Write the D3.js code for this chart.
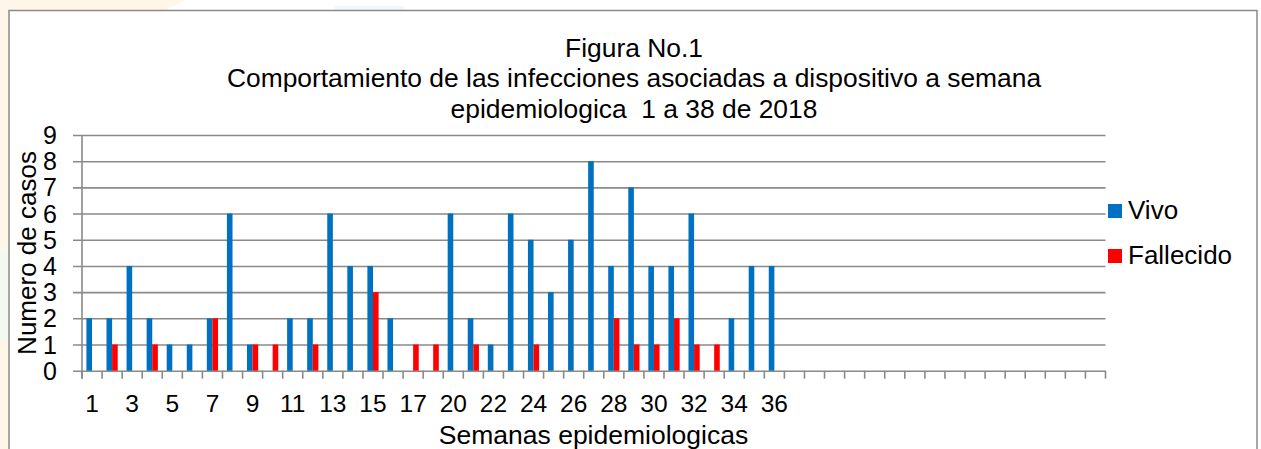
<!DOCTYPE html>
<html>
<head>
<meta charset="utf-8">
<script src="https://cdn.jsdelivr.net/npm/d3@7"></script>
<style>
  body { margin: 0; background: #fff; }
  svg { display: block; }
  text { font-family: "Liberation Sans", Arial, sans-serif; fill: #000; }
</style>
</head>
<body>
<script>
// weeks shown on the x axis (week 19 is not in the data), then empty slots
const weeks = ["1","2","3","4","5","6","7","8","9","10","11","12","13","14","15","16","17","18",
               "20","21","22","23","24","25","26","27","28","29","30","31","32","33","34","35","36",
               "","","","","","","","","","","","","","","",""];
const vivo      = [2,2,4,2,1,1,2,6,1,0,2,2,6,4,4,2,0,0,6,2,1,6,5,3,5,8,4,7,4,4,6,0,2,4,4];
const fallecido = [0,1,0,1,0,0,2,0,1,1,0,1,0,0,3,0,1,1,0,1,0,0,1,0,0,0,2,1,1,2,1,1,0,0,0];
const seriesNames = ["Vivo", "Fallecido"];
const seriesColors = ["#0070C0", "#FF0000"];
const yTicks = [0,1,2,3,4,5,6,7,8,9];

const W = 1261, H = 449;
const plotLeft = 82, plotRight = 1105.5, plotTop = 135, plotBottom = 370.7;

const svg = d3.select("body").append("svg")
    .attr("width", W)
    .attr("height", H);

// faint page background behind the chart frame
svg.append("path")
    .attr("d", "M0,0 L186,0 L165,10 L9,10 L9,449 L0,449 Z")
    .attr("fill", "#fff6ea");
svg.append("rect").attr("x", 0).attr("y", 250).attr("width", 8).attr("height", 90)
    .attr("fill", "#f4f8ef");
svg.append("rect").attr("x", 335).attr("y", 6).attr("width", 69).attr("height", 4)
    .attr("fill", "#eef8fd");

// chart frame
svg.append("rect")
    .attr("x", 9).attr("y", 10.5)
    .attr("width", 1248).attr("height", 460)
    .attr("fill", "#fff")
    .attr("stroke", "#8a8a8a")
    .attr("stroke-width", 1.5);

const idx = d3.range(weeks.length);

const x = d3.scaleBand()
    .domain(idx)
    .range([plotLeft, plotRight])
    .paddingInner(0)
    .paddingOuter(0);

const x1 = d3.scaleBand()
    .domain(seriesNames)
    .range([0, x.bandwidth()])
    .paddingInner(0)
    .paddingOuter(0.79);

const y = d3.scaleLinear()
    .domain([0, 9])
    .range([plotBottom, plotTop]);

// gridlines
svg.append("g")
    .attr("transform", `translate(${plotLeft - 9},0)`)
    .call(d3.axisRight(y).tickValues(yTicks).tickSize(plotRight - plotLeft + 9).tickFormat(""))
    .call(g => g.select(".domain").remove())
    .call(g => g.selectAll("line").attr("stroke", "#8a8a8a").attr("stroke-width", 1.6));

// y axis line
svg.append("line")
    .attr("x1", plotLeft).attr("x2", plotLeft)
    .attr("y1", plotTop).attr("y2", plotBottom + 8)
    .attr("stroke", "#8a8a8a").attr("stroke-width", 1.6);

// x tick marks at category boundaries
const bounds = idx.map(i => x(i)).concat([plotRight]);
svg.append("g").selectAll("line")
    .data(bounds)
    .join("line")
    .attr("x1", d => d).attr("x2", d => d)
    .attr("y1", plotBottom).attr("y2", plotBottom + 8)
    .attr("stroke", "#8a8a8a").attr("stroke-width", 1.6);

// y tick labels
svg.append("g")
    .attr("transform", `translate(${plotLeft - 9},0)`)
    .call(d3.axisLeft(y).tickValues(yTicks).tickSize(0).tickPadding(16))
    .call(g => g.select(".domain").remove())
    .call(g => g.selectAll("text")
        .attr("font-family", "'Liberation Serif', 'Times New Roman', serif")
        .attr("font-size", 25)
        .attr("dy", "0.34em")
        .attr("fill", "#000"));

// x tick labels
svg.append("g")
    .attr("transform", `translate(0,${plotBottom})`)
    .call(d3.axisBottom(x).tickSize(0).tickPadding(0)
        .tickFormat(i => i % 2 === 0 ? weeks[i] : ""))
    .call(g => g.select(".domain").remove())
    .call(g => g.selectAll("text")
        .attr("font-family", "'Liberation Sans', Arial, sans-serif")
        .attr("font-size", 24.5)
        .attr("y", 41)
        .attr("dy", 0)
        .attr("fill", "#000"));

// bars
const rows = vivo.map((v, i) => ({ i, vals: [v, fallecido[i]] }));
svg.append("g").selectAll("g")
    .data(rows)
    .join("g")
    .attr("transform", d => `translate(${x(d.i)},0)`)
    .selectAll("rect")
    .data(d => d.vals.map((v, k) => ({ name: seriesNames[k], v, k })))
    .join("rect")
    .filter(d => d.v > 0)
    .attr("x", d => x1(d.name))
    .attr("y", d => y(d.v))
    .attr("width", x1.bandwidth())
    .attr("height", d => y(0) - y(d.v))
    .attr("fill", d => seriesColors[d.k]);

// titles
const titleLines = ["Figura No.1",
    "Comportamiento de las infecciones asociadas a dispositivo a semana",
    "epidemiologica  1 a 38 de 2018"];
svg.append("g").selectAll("text")
    .data(titleLines)
    .join("text")
    .attr("x", 634)
    .attr("y", (d, i) => 56.5 + i * 30.8)
    .attr("text-anchor", "middle")
    .attr("font-size", 26.4)
    .attr("xml:space", "preserve")
    .style("white-space", "pre")
    .text(d => d);

svg.append("text")
    .attr("x", 593.5)
    .attr("y", 444)
    .attr("text-anchor", "middle")
    .attr("font-size", 26.5)
    .text("Semanas epidemiologicas");

svg.append("text")
    .attr("transform", "translate(36,253) rotate(-90)")
    .attr("text-anchor", "middle")
    .attr("font-size", 26)
    .text("Numero de casos");

// legend
const legend = svg.append("g").selectAll("g")
    .data(seriesNames)
    .join("g")
    .attr("transform", (d, i) => `translate(1108,${204 + i * 45})`);
legend.append("rect")
    .attr("width", 14).attr("height", 14)
    .attr("fill", (d, i) => seriesColors[i]);
legend.append("text")
    .attr("x", 20).attr("y", 15)
    .attr("font-size", 26)
    .text(d => d);
</script>
</body>
</html>
